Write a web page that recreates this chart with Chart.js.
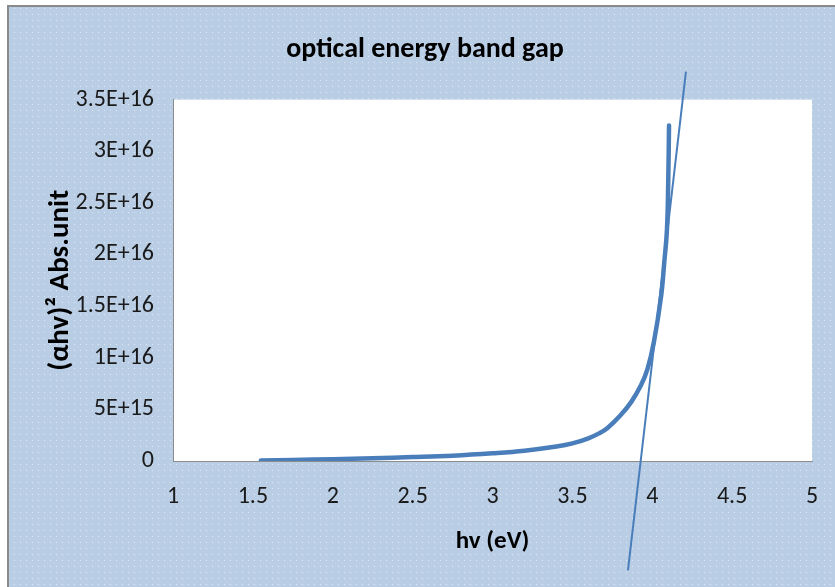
<!DOCTYPE html>
<html>
<head>
<meta charset="utf-8">
<script src="https://cdn.jsdelivr.net/npm/chart.js@4.4.1/dist/chart.umd.min.js"></script>
<style>
  html, body { margin: 0; padding: 0; background: #ffffff; }
  canvas { display: block; }
</style>
</head>
<body>
<canvas id="bandGapChart" width="835" height="587"></canvas>
<script>
// photon energy hv (eV) and (alpha*h*v)^2
const hv = [1.55, 1.75, 2.0, 2.25, 2.5, 2.75, 3.0, 3.2, 3.4, 3.5, 3.6, 3.67, 3.72, 3.8, 3.87, 3.93, 3.97, 4.01, 4.055, 4.075, 4.092, 4.1, 4.105];
const ahv2 = [0.005e16, 0.01e16, 0.018e16, 0.027e16, 0.038e16, 0.052e16, 0.075e16, 0.10e16, 0.14e16, 0.17e16, 0.22e16, 0.27e16, 0.32e16, 0.44e16, 0.575e16, 0.735e16, 0.89e16, 1.15e16, 1.59e16, 1.92e16, 2.24e16, 2.7e16, 3.25e16];

// straight tangent line used to read the band gap
const tangentX = [3.848, 4.211];
const tangentY = [-1.06e16, 3.77e16];

const xTickValues = [1, 1.5, 2, 2.5, 3, 3.5, 4, 4.5, 5];
const xTickLabels = ['1', '1.5', '2', '2.5', '3', '3.5', '4', '4.5', '5'];
const yTickValues = [0, 5e15, 1e16, 1.5e16, 2e16, 2.5e16, 3e16, 3.5e16];
const yTickLabels = ['0', '5E+15', '1E+16', '1.5E+16', '2E+16', '2.5E+16', '3E+16', '3.5E+16'];

const lineBlue = '#4a7ebb';
const fontFamily = 'Carlito, Lato, "Open Sans", sans-serif';

// dotted light-blue chart background like the office chart style
const dots = document.createElement('canvas');
dots.width = 6;
dots.height = 6;
const dctx = dots.getContext('2d');
dctx.fillStyle = '#b9cde5';
dctx.fillRect(0, 0, 6, 6);
dctx.fillStyle = 'rgba(255,255,255,0.55)';
dctx.fillRect(2, 2, 1, 1);

const backgroundPlugin = {
    id: 'frameBackground',
    afterLayout(chart) {
        // title in the original sits a little right of the canvas centre
        if (chart.titleBlock) {
            chart.titleBlock.left += 15;
        }
    },
    beforeDraw(chart) {
        const c = chart.ctx;
        const a = chart.chartArea;
        c.save();
        c.fillStyle = '#ffffff';
        c.fillRect(0, 0, chart.width, chart.height);
        c.fillStyle = c.createPattern(dots, 'repeat');
        c.fillRect(8, 6, chart.width - 8, chart.height - 6);
        c.strokeStyle = '#8a8a8a';
        c.lineWidth = 2;
        c.beginPath();
        c.moveTo(8, chart.height);
        c.lineTo(8, 6);
        c.lineTo(chart.width, 6);
        c.stroke();
        c.fillStyle = '#ffffff';
        c.fillRect(a.left, a.top, a.right - a.left, a.bottom - a.top);
        c.restore();
    }
};

const ctx = document.getElementById('bandGapChart').getContext('2d');
const bandGapChart = new Chart(ctx, {
    type: 'line',
    data: {
        datasets: [
            {
                label: 'curve',
                data: hv.map((x, i) => ({x: x, y: ahv2[i]})),
                borderColor: lineBlue,
                borderWidth: 4.5,
                borderCapStyle: 'round',
                borderJoinStyle: 'round',
                pointRadius: 0,
                tension: 0.4,
                fill: false
            },
            {
                label: 'tangent',
                data: tangentX.map((x, i) => ({x: x, y: tangentY[i]})),
                borderColor: lineBlue,
                borderWidth: 2,
                pointRadius: 0,
                clip: false,
                fill: false
            }
        ]
    },
    options: {
        responsive: false,
        animation: false,
        devicePixelRatio: 1,
        layout: {
            padding: 0
        },
        scales: {
            x: {
                type: 'linear',
                min: 1,
                max: 5,
                afterBuildTicks: (scale) => { scale.ticks = xTickValues.map(v => ({value: v})); },
                afterFit: (scale) => {
                    scale.height = 126;
                    scale.paddingLeft = 0;
                    scale.paddingRight = 23;
                },
                grid: { display: false, drawTicks: false },
                border: { display: true, color: '#8c8c8c', width: 1 },
                ticks: {
                    color: '#1a1a1a',
                    padding: 22,
                    maxRotation: 0,
                    font: { family: fontFamily, size: 24 },
                    callback: (v, i) => xTickLabels[i]
                },
                title: {
                    display: true,
                    text: 'hv (eV)',
                    color: '#000000',
                    padding: { top: 0, bottom: 30 },
                    font: { family: fontFamily, size: 25, weight: 'bold' }
                }
            },
            y: {
                type: 'linear',
                min: 0,
                max: 3.5e16,
                afterBuildTicks: (scale) => { scale.ticks = yTickValues.map(v => ({value: v})); },
                afterFit: (scale) => { scale.width = 173; },
                grid: { display: false, drawTicks: false },
                border: { display: true, color: '#8c8c8c', width: 1 },
                ticks: {
                    color: '#1a1a1a',
                    padding: 19,
                    font: { family: fontFamily, size: 24 },
                    callback: (v, i) => yTickLabels[i]
                },
                title: {
                    display: true,
                    text: '(\u03b1hv)\u00b2 Abs.unit',
                    color: '#000000',
                    padding: { top: 43, bottom: 0 },
                    font: { family: fontFamily, size: 29, weight: 'bold' }
                }
            }
        },
        plugins: {
            legend: { display: false },
            tooltip: { enabled: false },
            title: {
                display: true,
                text: 'optical energy band gap',
                color: '#000000',
                padding: { top: 33, bottom: 33 },
                font: { family: fontFamily, size: 28, weight: 'bold' }
            }
        }
    },
    plugins: [backgroundPlugin]
});
</script>
</body>
</html>
